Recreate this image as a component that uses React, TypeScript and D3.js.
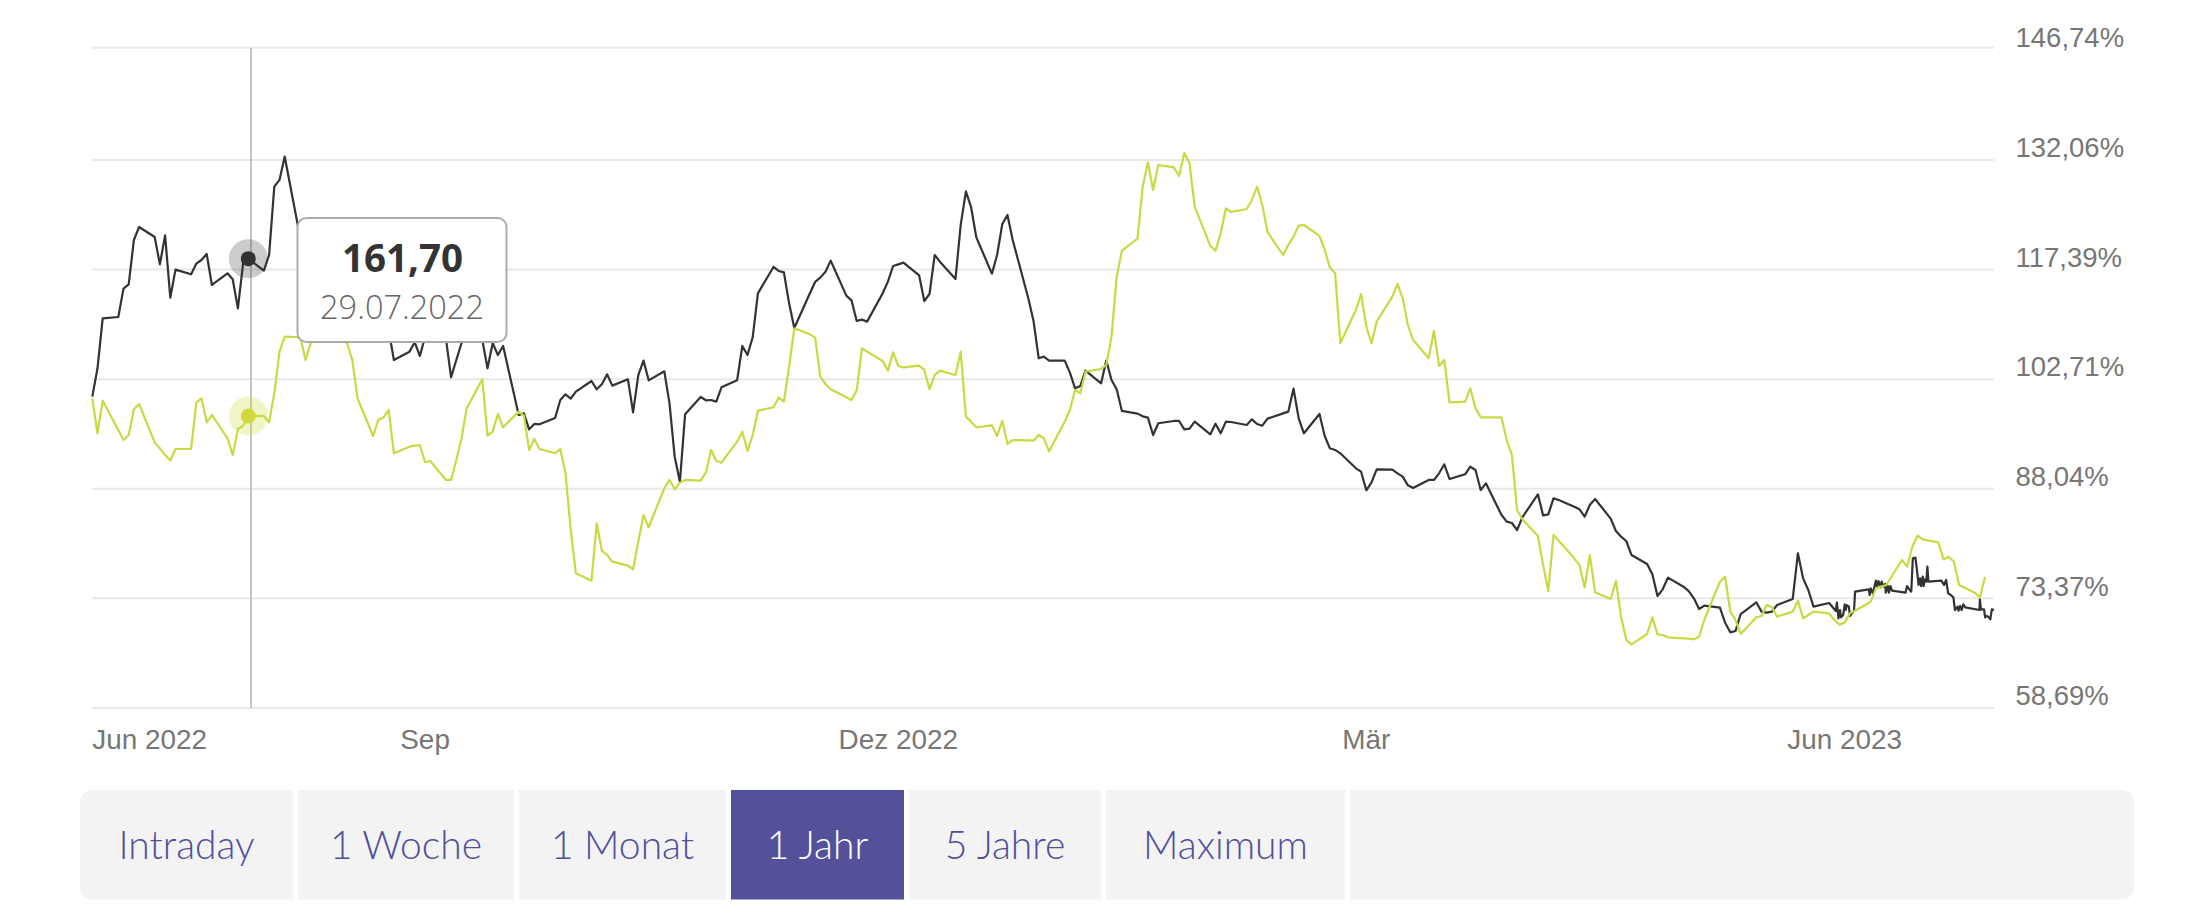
import * as d3 from 'd3';

// calendar days counted from 29.06.2022, one row per trading week
const tradingDays = [
  0, 1, 2,
  5, 6, 7, 8, 9, 12, 13, 14, 15, 16, 19, 20, 21, 22, 23, 26, 27, 28, 29, 30,
  33, 34, 35, 36, 37, 40, 41, 42, 43, 44, 47, 48, 49, 50, 51, 54, 55, 56, 57, 58,
  61, 62, 63, 64, 65, 68, 69, 70, 71, 72, 75, 76, 77, 78, 79, 82, 83, 84, 85, 86,
  89, 90, 91, 92, 93, 96, 97, 98, 99, 100, 103, 104, 105, 106, 107, 110, 111, 112, 113, 114,
  117, 118, 119, 120, 121, 124, 125, 126, 127, 128, 131, 132, 133, 134, 135, 138, 139, 140, 141, 142,
  145, 146, 147, 148, 149, 152, 153, 154, 155, 156, 159, 160, 161, 162, 163, 166, 167, 168, 169, 170,
  173, 174, 175, 176, 177, 180, 181, 182, 183, 184, 187, 188, 189, 190, 191, 194, 195, 196, 197, 198,
  201, 202, 203, 204, 205, 208, 209, 210, 211, 212, 215, 216, 217, 218, 219, 222, 223, 224, 225, 226,
  229, 230, 231, 232, 233, 236, 237, 238, 239, 240, 243, 244, 245, 246, 247, 250, 251, 252, 253, 254,
  257, 258, 259, 260, 261, 264, 265, 266, 267, 268, 271, 272, 273, 274, 275, 278, 279, 280, 281, 282,
  285, 286, 287, 288, 289, 292, 293, 294, 295, 296, 299, 300, 301, 302, 303, 306, 307, 308, 309, 310,
  313, 314, 315, 316, 317, 320, 321, 322, 323, 324, 327, 328, 329, 330, 331, 334, 335, 336, 337, 338,
  341, 342, 343, 344, 345, 348, 349, 350, 351, 352, 355, 356, 357, 358, 359, 362, 363, 364,
];

const stockValues = [
  100.38, 104.17, 110.86,
  111.04, 114.84, 115.42, 121.35, 123.09, 121.75, 118.09, 121.98, 113.63, 117.38,
  116.76, 118.18, 118.67, 119.48, 115.33, 116.89, 116.09, 112.2, 118.23, 118.85,
  117.25, 119.34, 128.49, 129.39, 132.51, 121.58, 122.69, 120.46, 119.12, 118.23,
  112.87, 111.09, 109.3, 107.7, 109.3, 111.09, 111.09, 110.2, 109.3, 105.29,
  106.4, 107.65, 105.82, 108.41, 109.3, 108.19, 102.97, 105.29, 107.52, 109.3,
  107.96, 104.17, 107.52, 105.95, 107.16, 97.92, 98.14, 96.0, 96.72, 96.67,
  97.52, 99.93, 100.69, 100.11, 101.05, 102.47, 101.36, 102.03, 103.37, 101.85,
  102.7, 98.28, 103.27, 105.2, 102.56, 103.77, 99.48, 92.34, 88.99, 98.01,
  100.33, 99.89, 99.93, 99.71, 101.63, 102.56, 107.16, 105.95, 108.32, 114.21,
  117.74, 117.2, 117.02, 112.87, 109.57, 114.21, 115.73, 116.31, 117.11, 118.59,
  113.9, 113.27, 110.51, 110.69, 110.42, 114.21, 115.77, 117.87, 118.09, 118.32,
  116.62, 113.18, 114.12, 119.34, 118.45, 116.13, 123.36, 127.87, 125.73, 121.71,
  116.84, 119.34, 123.49, 124.7, 121.35, 113.54, 110.55, 105.51, 105.73, 105.2,
  105.2, 103.59, 101.49, 101.8, 103.86, 102.16, 105.2, 102.61, 101.36, 98.46,
  98.1, 97.74, 97.56, 95.24, 96.81, 97.12, 97.12, 96.0, 96.09, 97.03,
  95.33, 96.76, 95.47, 97.03, 96.98, 96.58, 97.34, 96.72, 96.49, 97.43,
  98.14, 98.37, 101.45, 97.47, 95.47, 98.05, 95.11, 93.46, 93.24, 92.79,
  90.78, 90.33, 87.84, 88.91, 90.65, 90.6, 90.11, 89.67, 88.5, 88.15,
  89.22, 89.22, 90.11, 91.32, 89.35, 89.98, 91.0, 90.56, 87.88, 88.77,
  84.53, 83.64, 83.46, 82.52, 84.22, 87.3, 84.48, 84.62, 86.76, 86.54,
  85.64, 85.29, 84.31, 85.91, 86.67, 84.04, 82.39, 81.63, 81.05, 79.17,
  77.97, 76.63, 73.68, 74.58, 76.14, 74.93, 74.35, 73.37, 71.94, 72.39,
  72.12, 70.11, 68.82, 69.0, 71.27, 72.84, 71.59, 71.45, 71.59, 72.48,
  73.28, 79.4, 76.05, 74.49, 72.26, 72.75,
];

// the last weeks of the dark line are denser, so they get their own day list
const stockTailDays = [
  335.3, 335.5, 335.8, 336.1, 336.3, 336.7, 337.0, 337.2, 337.4, 337.8, 338.0, 338.4, 338.8, 339.0,
  341.6, 341.8, 342.0, 342.4, 343.0, 343.2, 343.5, 343.9, 344.1, 344.5, 344.8, 344.9, 345.3, 345.5, 345.8, 346.1,
  348.7, 349.0, 349.5, 349.8, 350.1, 350.6, 350.9, 351.2, 351.5, 351.7, 352.0, 352.2, 352.4, 352.7, 352.9, 353.1,
  355.6, 356.1, 356.5, 356.9, 357.4, 357.9, 358.2, 358.7, 358.9, 359.2, 359.5, 359.8, 360.2,
  362.9, 363.0, 363.2, 363.8, 364.0, 364.3, 364.6, 365.0, 365.3, 365.7,
];
const stockTailValues = [
  71.68, 72.79, 70.7, 71.81, 70.83, 71.14, 72.57, 71.81, 72.48, 72.26, 71.01, 71.36, 71.81, 74.27,
  74.58, 73.82, 74.71, 74.04, 75.74, 74.85, 75.69, 74.85, 75.6, 74.94, 75.29, 74.13, 75.02, 74.13, 75.02, 74.4,
  74.13, 75.02, 74.49, 74.27, 78.73, 78.82, 77.17, 75.16, 76.05, 75.02, 76.27, 75.02, 75.92, 75.6, 77.61, 75.6,
  75.74, 75.16, 75.83, 74.04, 73.82, 73.51, 71.81, 72.26, 71.72, 72.35, 71.81, 72.57, 72.17,
  71.81, 73.24, 71.9, 71.9, 70.83, 71.01, 70.92, 70.56, 71.9, 71.81,
];

const benchmarkValues = [
  100.15, 95.47, 99.84,
  95.91, 94.57, 95.24, 98.68, 99.4, 94.22, 93.46, 92.57, 91.81, 93.37,
  93.37, 99.57, 100.15, 96.94, 97.92, 94.8, 92.57, 96.05, 96.45, 97.79,
  97.79, 96.94, 100.82, 106.4, 108.41, 108.32, 105.29, 107.52, 109.3, 109.75,
  111.09, 109.3, 107.52, 105.29, 100.15, 95.11, 97.25, 97.61, 98.59, 92.79,
  93.68, 93.81, 93.9, 91.59, 91.76, 89.22, 89.22, 91.9, 94.8, 98.81,
  102.7, 95.15, 95.69, 98.05, 96.27, 98.37, 97.83, 93.24, 94.71, 93.37,
  92.79, 93.37, 90.11, 82.53, 76.73, 75.74, 83.42, 79.72, 79.18, 78.29,
  77.75, 77.26, 80.96, 84.53, 82.88, 88.11, 89.22, 87.97, 88.86, 89.22,
  89.13, 90.24, 93.24, 91.76, 91.54, 94.35, 95.69, 93.1, 95.24, 98.5,
  98.95, 100.24, 99.71, 104.39, 109.53, 108.72, 108.28, 103.05, 102.07, 101.36,
  100.29, 99.93, 101.18, 106.85, 106.4, 105.15, 103.86, 106.31, 104.48, 104.3,
  104.53, 103.95, 101.4, 103.28, 103.86, 103.28, 106.4, 97.7, 97.03, 96.27,
  96.54, 95.11, 97.12, 94.04, 94.57, 94.53, 94.48, 95.24, 94.8, 93.06,
  97.03, 98.59, 101.27, 100.82, 103.72, 104.08, 104.62, 108.41, 116.44, 119.92,
  121.53, 128.49, 131.75, 128.05, 131.39, 131.08, 129.92, 132.96, 131.62, 125.82,
  120.55, 119.92, 122.25, 125.59, 125.1, 125.5, 126.71, 128.49, 126.04, 122.42,
  119.34, 120.68, 121.8, 123.27, 123.36, 121.89, 120.01, 117.65, 116.89, 107.52,
  111.98, 114.12, 109.75, 107.52, 110.42, 113.77, 115.46, 113.54, 109.97, 107.96,
  105.51, 109.17, 104.48, 105.29, 99.62, 99.71, 101.49, 98.81, 97.61, 97.61,
  97.61, 94.57, 92.56, 85.2, 83.95, 81.72, 77.83, 74.35, 81.85, 81.09,
  78.73, 77.83, 74.84, 79.17, 74.18, 73.28, 75.69, 70.92, 67.79, 67.21,
  68.6, 70.83, 68.55, 68.46, 68.15, 68.02, 67.97, 67.88, 68.24, 70.47,
  75.6, 76.27, 71.59, 70.47, 68.6, 70.83, 71.01, 72.48, 72.17, 70.92,
  71.59, 73.06, 70.7, 71.14, 71.59, 71.36, 70.47, 69.85, 70.12, 71.36,
  72.48, 72.93, 74.71, 74.94, 75.16, 78.51, 77.61, 80.29, 81.76, 81.27,
  80.87, 78.59, 78.95, 78.28, 75.16, 74.13, 73.51, 76.27,
];

const yTicks = [146.74, 132.06, 117.39, 102.71, 88.04, 73.37, 58.69];
const xTickDays = [0, 64, 155, 245, 337];
const xTickLabels = ['Jun 2022', 'Sep', 'Dez 2022', 'Mär', 'Jun 2023'];
const tabLabels = ['Intraday', '1 Woche', '1 Monat', '1 Jahr', '5 Jahre', 'Maximum', ''];
const tabEdges = [80, 293, 298, 514, 519, 726, 731, 904, 909, 1101, 1106, 1345, 1350, 2134];
const activeTab = '1 Jahr';
const hoverDay = 30;
const hoverPrice = '161,70';
const hoverDate = '29.07.2022';

const dayMs = 86400000;
const startMs = Date.UTC(2022, 5, 29);
const toDate = (day: number) => new Date(startMs + day * dayMs);

const x = d3.scaleUtc().domain([toDate(0), toDate(365)]).range([92.3, 1990.3]);
// the top gridline sits a little higher than the even spacing below it
const y = d3.scaleLinear().domain([58.69, 132.06, 146.74]).range([708, 160, 47.7]);
const labelY = d3.scaleLinear().domain([58.69, 146.74]).range([705.2, 47.3]);

type Pt = { day: number; value: number };
const line = d3.line<Pt>().x(d => x(toDate(d.day))).y(d => y(d.value));

const stockPts: Pt[] = [
  ...stockValues.map((value, i) => ({ day: tradingDays[i], value })),
  ...stockTailValues.map((value, i) => ({ day: stockTailDays[i], value })),
];
const benchmarkPts: Pt[] = benchmarkValues.map((value, i) => ({ day: tradingDays[i], value }));

const tabPath = (x0: number, x1: number, top: number, bottom: number, rl: number, rr: number) => {
  const p = d3.path();
  p.moveTo(x0 + rl, top);
  p.lineTo(x1 - rr, top);
  if (rr) p.arcTo(x1, top, x1, top + rr, rr);
  p.lineTo(x1, bottom - rr);
  if (rr) p.arcTo(x1, bottom, x1 - rr, bottom, rr);
  p.lineTo(x0 + rl, bottom);
  if (rl) p.arcTo(x0, bottom, x0, bottom - rl, rl);
  p.lineTo(x0, top + rl);
  if (rl) p.arcTo(x0, top, x0 + rl, top, rl);
  p.closePath();
  return p.toString();
};

const axisFont = '"Liberation Sans", Arial, sans-serif';

export default function App() {
  const hx = x(toDate(hoverDay));
  const stockHover = stockPts.find(d => d.day === hoverDay)!;
  const benchHover = benchmarkPts.find(d => d.day === hoverDay)!;

  return (
    <svg width={2201} height={918} style={{ position: 'absolute', left: 0, top: 0, background: '#fff' }}>
      {yTicks.map(t => (
        <line key={t} x1={92} x2={1994} y1={y(t)} y2={y(t)} stroke="#e8e8e8" strokeWidth={2} />
      ))}
      {yTicks.map(t => (
        <text key={t} x={2015.5} y={labelY(t)} fontFamily={axisFont} fontSize={27.5} fill="#767676">
          {t.toFixed(2).replace('.', ',')}%
        </text>
      ))}
      {xTickDays.map((d, i) => (
        <text
          key={d}
          x={x(toDate(d))}
          y={749}
          textAnchor={i === 0 ? 'start' : 'middle'}
          fontFamily={axisFont}
          fontSize={27.9}
          fill="#767676"
        >
          {xTickLabels[i]}
        </text>
      ))}

      <line x1={hx + 2.7} x2={hx + 2.7} y1={47.7} y2={708} stroke="#c4c4c4" strokeWidth={2} />

      <path d={line(stockPts)!} fill="none" stroke="#333333" strokeWidth={2.2} strokeLinejoin="round" />
      <path d={line(benchmarkPts)!} fill="none" stroke="#c9d944" strokeWidth={2.2} strokeLinejoin="round" />

      <circle cx={hx} cy={y(stockHover.value)} r={19.5} fill="#333333" fillOpacity={0.25} />
      <circle cx={hx} cy={y(stockHover.value)} r={7.5} fill="#333333" />
      <circle cx={hx} cy={y(benchHover.value)} r={19.5} fill="#d0d93c" fillOpacity={0.3} />
      <circle cx={hx} cy={y(benchHover.value)} r={7.5} fill="#d0d93c" />

      <rect x={297.5} y={218} width={209} height={124} rx={9} fill="#fff" stroke="#ababab" strokeWidth={2} />
      <text x={402.5} y={271.5} textAnchor="middle" fontFamily='"Open Sans", sans-serif' fontWeight={700} fontSize={38.5} fill="#333">
        {hoverPrice}
      </text>
      <text x={402} y={319} textAnchor="middle" fontFamily='"Open Sans", sans-serif' fontWeight={300} fontSize={32.5} fill="#666">
        {hoverDate}
      </text>

      {tabLabels.map((label, i) => {
        const x0 = tabEdges[i * 2];
        const x1 = tabEdges[i * 2 + 1];
        const active = label === activeTab;
        return (
          <g key={i}>
            <path
              d={tabPath(x0, x1, 790, 899.5, i === 0 ? 12 : 0, i === tabLabels.length - 1 ? 12 : 0)}
              fill={active ? '#525199' : '#f3f3f4'}
            />
            <text
              x={(x0 + x1) / 2}
              y={859}
              textAnchor="middle"
              fontFamily="Lato, sans-serif"
              fontWeight={300}
              fontSize={39}
              fill={active ? '#fff' : '#4f4f98'}
            >
              {label}
            </text>
          </g>
        );
      })}
    </svg>
  );
}
